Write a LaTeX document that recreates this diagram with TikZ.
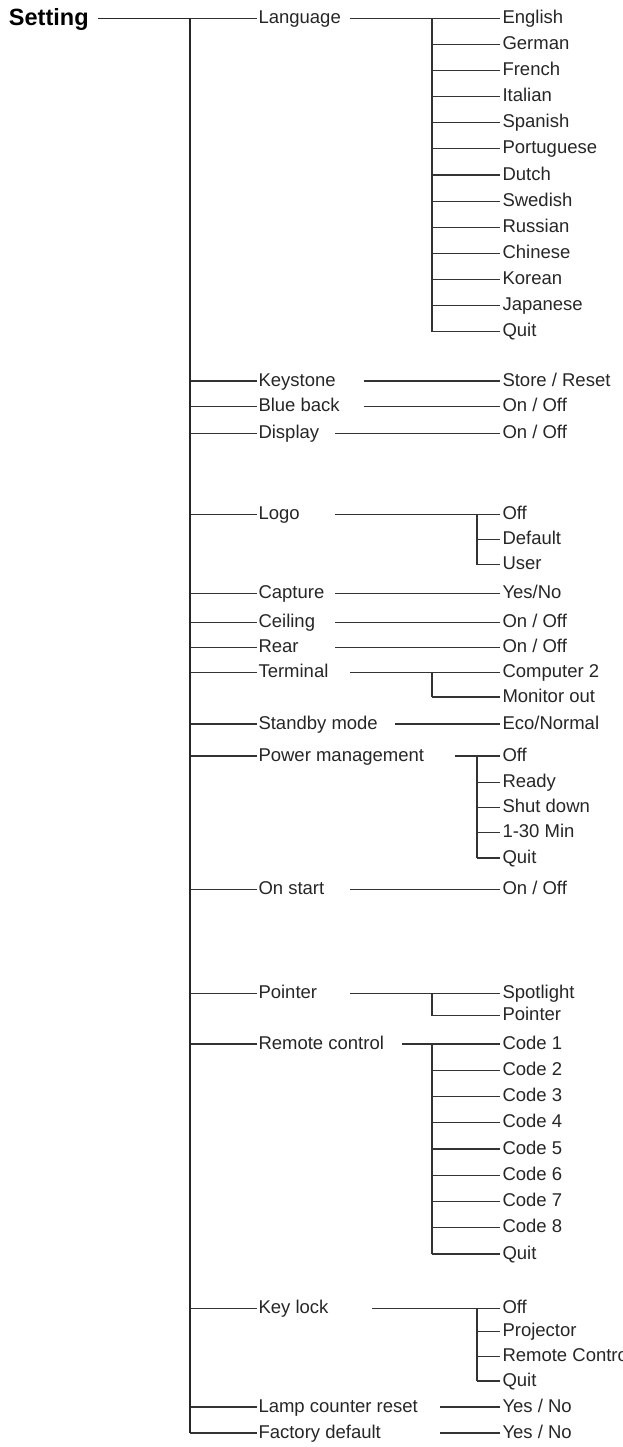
\documentclass[tikz,border=0pt]{standalone}
\usepackage{fontspec}
\setmainfont{Liberation Sans}
\newcommand\Lone[3]{% name, y, text
  \node[lbl] (#1) at (258.5,#2+5) {#3};
  \coordinate (#1-t) at (190,#2);
  \coordinate (#1-in) at (257,#2);
  \draw[ln] (#1-t) -- (#1-in);}
\newcommand\Gap[3]{% name, x, y
  \coordinate (#1-g) at (#2,#3);}
\newcommand\Child[4]{% name, vx, y, text
  \node[lbl] (#1) at (502.5,#3+5) {#4};
  \coordinate (#1-v) at (#2,#3);
  \coordinate (#1-in) at (499.5,#3);
  \draw[ln] (#1-v) -- (#1-in);}
\begin{document}
\begin{tikzpicture}[x=1pt,y=-1pt,
  lbl/.style={anchor=base west,inner sep=0pt,outer sep=0pt,font=\fontsize{18.5}{22}\selectfont,text=black!85},
  ttl/.style={anchor=base west,inner sep=0pt,outer sep=0pt,font=\bfseries\fontsize{23.5}{28}\selectfont,text=black},
  ln/.style={draw=black!80,line width=1.2pt},
  trunkline/.style={draw=black!85,line width=1.4pt}]
\useasboundingbox (0,0) rectangle (623,1447);

% root
\node[ttl] (Setting) at (9,26) {Setting};
\coordinate (Setting-g) at (98,18.3);

% ---------- Language
\Lone{Language}{18.3}{Language}
\Gap{Language}{350}{18.3}
\foreach \t [count=\k from 0] in {English,German,French,Italian,Spanish,Portuguese,Dutch,Swedish,Russian,Chinese,Korean,Japanese,Quit}{
  \Child{lang\k}{432}{18.3+26.12*\k}{\t}}
\draw[ln] (Language-g) -- (lang0-in);
\draw[ln] (lang0-v) -- (lang12-v);

% ---------- Keystone etc.
\Lone{Keystone}{381}{Keystone}
\Gap{Keystone}{364}{381}
\Child{ksr}{499.5}{381}{Store / Reset}
\draw[ln] (Keystone-g) -- (ksr-in);

\Lone{Blueback}{406.7}{Blue back}
\Gap{Blueback}{364}{406.7}
\Child{bbo}{499.5}{406.7}{On / Off}
\draw[ln] (Blueback-g) -- (bbo-in);

\Lone{Display}{433.7}{Display}
\Gap{Display}{335}{433.7}
\Child{dso}{499.5}{433.7}{On / Off}
\draw[ln] (Display-g) -- (dso-in);

% ---------- Logo
\Lone{Logo}{514.3}{Logo}
\Gap{Logo}{335}{514.3}
\Child{lg0}{477}{514.3}{Off}
\Child{lg1}{477}{539.5}{Default}
\Child{lg2}{477}{564.5}{User}
\draw[ln] (Logo-g) -- (lg0-in);
\draw[ln] (lg0-v) -- (lg2-v);

\Lone{Capture}{593.3}{Capture}
\Gap{Capture}{335}{593.3}
\Child{cap}{499.5}{593.3}{Yes/No}
\draw[ln] (Capture-g) -- (cap-in);

\Lone{Ceiling}{622.7}{Ceiling}
\Gap{Ceiling}{335}{622.7}
\Child{cei}{499.5}{622.7}{On / Off}
\draw[ln] (Ceiling-g) -- (cei-in);

\Lone{Rear}{647.3}{Rear}
\Gap{Rear}{335}{647.3}
\Child{rea}{499.5}{647.3}{On / Off}
\draw[ln] (Rear-g) -- (rea-in);

% ---------- Terminal
\Lone{Terminal}{672.3}{Terminal}
\Gap{Terminal}{350}{672.3}
\Child{tm0}{432}{672.3}{Computer 2}
\Child{tm1}{432}{697}{Monitor out}
\draw[ln] (Terminal-g) -- (tm0-in);
\draw[ln] (tm0-v) -- (tm1-v);

\Lone{Standby}{724}{Standby mode}
\Gap{Standby}{395}{724}
\Child{stb}{499.5}{724}{Eco/Normal}
\draw[ln] (Standby-g) -- (stb-in);

% ---------- Power management
\Lone{Power}{756}{Power management}
\Gap{Power}{455}{756}
\Child{pm0}{477}{756}{Off}
\Child{pm1}{477}{782.5}{Ready}
\Child{pm2}{477}{807.7}{Shut down}
\Child{pm3}{477}{832.7}{1-30 Min}
\Child{pm4}{477}{858}{Quit}
\draw[ln] (Power-g) -- (pm0-in);
\draw[ln] (pm0-v) -- (pm4-v);

\Lone{Onstart}{889.3}{On start}
\Gap{Onstart}{350}{889.3}
\Child{ons}{499.5}{889.3}{On / Off}
\draw[ln] (Onstart-g) -- (ons-in);

% ---------- Pointer
\Lone{Pointer}{993.3}{Pointer}
\Gap{Pointer}{350}{993.3}
\Child{pt0}{432}{993.3}{Spotlight}
\Child{pt1}{432}{1015.5}{Pointer}
\draw[ln] (Pointer-g) -- (pt0-in);
\draw[ln] (pt0-v) -- (pt1-v);

% ---------- Remote control
\Lone{Remote}{1044}{Remote control}
\Gap{Remote}{402}{1044}
\foreach \t [count=\k from 0] in {Code 1,Code 2,Code 3,Code 4,Code 5,Code 6,Code 7,Code 8,Quit}{
  \Child{rc\k}{432}{1044+26.25*\k}{\t}}
\draw[ln] (Remote-g) -- (rc0-in);
\draw[ln] (rc0-v) -- (rc8-v);

% ---------- Key lock
\Lone{Keylock}{1308.3}{Key lock}
\Gap{Keylock}{372}{1308.3}
\Child{kl0}{477}{1308.3}{Off}
\Child{kl1}{477}{1331.7}{Projector}
\Child{kl2}{477}{1356.7}{Remote Control}
\Child{kl3}{477}{1381}{Quit}
\draw[ln] (Keylock-g) -- (kl0-in);
\draw[ln] (kl0-v) -- (kl3-v);

\Lone{Lamp}{1407}{Lamp counter reset}
\Gap{Lamp}{440}{1407}
\Child{lcr}{499.5}{1407}{Yes / No}
\draw[ln] (Lamp-g) -- (lcr-in);

\Lone{Factory}{1433}{Factory default}
\Gap{Factory}{440}{1433}
\Child{fcd}{499.5}{1433}{Yes / No}
\draw[ln] (Factory-g) -- (fcd-in);

% root line and trunk
\draw[trunkline] (Setting-g) -- (Language-t);
\draw[trunkline] (Language-t) -- (Factory-t);
\end{tikzpicture}
\end{document}
